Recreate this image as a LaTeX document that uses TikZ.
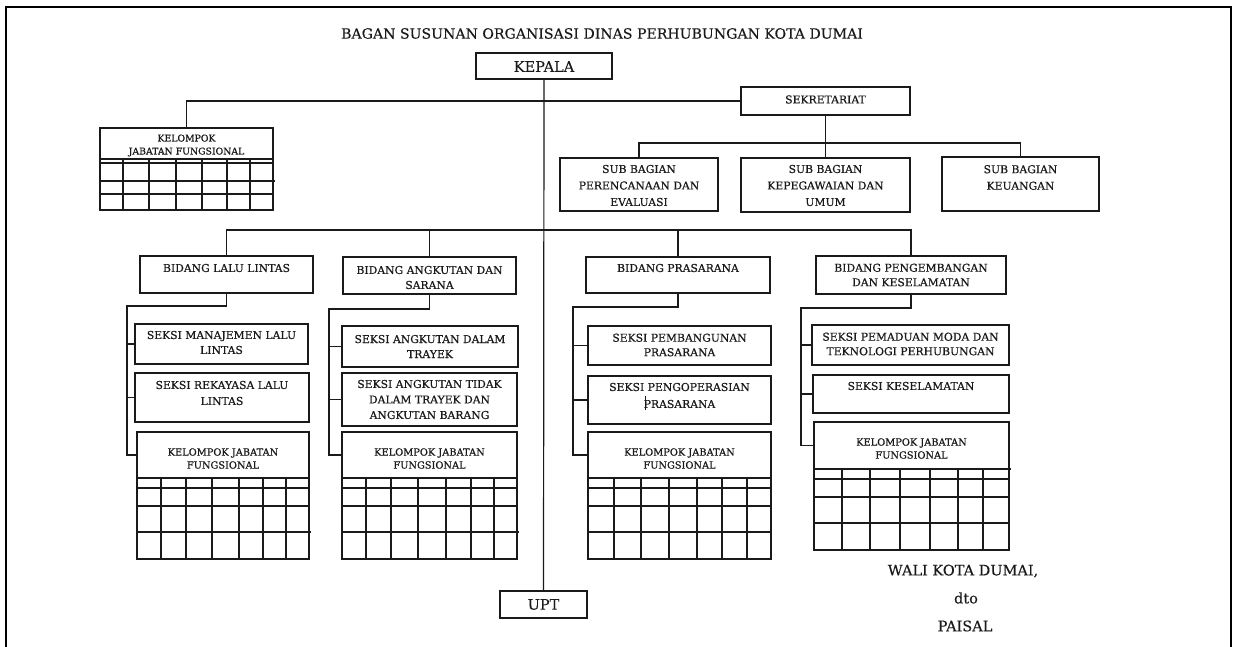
\documentclass[tikz,border=0pt]{standalone}
\usepackage{fontspec}
\setmainfont{DejaVu Serif}
\newfontfamily\dvbig[FakeBold=0.3]{DejaVu Serif}
\newfontfamily\dvsm[FakeBold=0.7]{DejaVu Serif}
\definecolor{ink}{HTML}{1A1A1A}
\tikzset{
  box/.style={draw=ink, line width=1.3pt, inner sep=0pt, outer sep=0pt, anchor=north west},
  conn/.style={draw=ink, line width=1.2pt},
  gridl/.style={draw=ink, line width=1.1pt},
  frame/.style={draw=black, line width=2pt},
  big/.style={font=\dvbig\fontsize{14.5}{17}\selectfont, inner sep=0pt, text=ink},
  sm/.style={font=\dvsm\fontsize{10.8}{15.5}\selectfont, inner sep=0pt, align=center, text=ink},
  kj/.style={font=\dvsm\fontsize{9.8}{13}\selectfont, inner sep=0pt, align=center, text=ink},
}
\newcommand\bx[5]{\node[box, minimum width={(#4-#2)*1pt}, minimum height={(#5-#3)*1pt}] (#1) at (#2,#3) {};}
\begin{document}
\begin{tikzpicture}[x=1pt,y=-1pt]
\useasboundingbox (0,0) rectangle (1233,647);
\draw[frame] (6,647) -- (6,7.5) -- (1231,7.5) -- (1231,647);

% title
\node[big, font=\dvbig\fontsize{14.1}{17}\selectfont] (title) at (602,33.5) {BAGAN SUSUNAN ORGANISASI DINAS PERHUBUNGAN KOTA DUMAI};

% boxes
\bx{kepala}{476}{53}{612}{79}
\node[big] (kepala-t) at (544,66.5) {KEPALA};
\bx{sekr}{741}{87}{910}{115}
\node[sm] (sekr-t) at (825.5,99.5) {SEKRETARIAT};
\bx{sb1}{560}{158}{718}{211}
\node[sm, font=\dvsm\fontsize{10.8}{16.5}\selectfont] (sb1-t) at (639,185.5) {SUB BAGIAN\\PERENCANAAN DAN\\EVALUASI};
\bx{sb2}{741}{158}{910}{212}
\node[sm, font=\dvsm\fontsize{10.8}{16.5}\selectfont] (sb2-t) at (825.5,185.5) {SUB BAGIAN\\KEPEGAWAIAN DAN\\UMUM};
\bx{sb3}{942}{157}{1099}{211}
\node[sm, font=\dvsm\fontsize{10.8}{16.5}\selectfont] (sb3-t) at (1020.5,177.5) {SUB BAGIAN\\KEUANGAN};

% top-left kelompok
\bx{kjf0}{100}{128}{273}{159}
\node[kj, font=\dvsm\fontsize{9.3}{13}\selectfont] (kjf0-t) at (186.5,145.5) {KELOMPOK\\JABATAN FUNGSIONAL};
\draw[gridl] (100,159) -- (100,210) -- (273,210) -- (273,159);
\foreach \y in {163,194} \draw[gridl] (100,\y) -- (273,\y);
\draw[gridl] (100,181) -- (275,181);
\foreach \x in {123,149,176,202,227,250} \draw[gridl] (\x,159) -- (\x,210);

% bidang
\bx{bll}{140}{256}{313}{293}
\node[sm] (bll-t) at (226.5,268) {BIDANG LALU LINTAS};
\bx{bas}{343}{257}{516}{294}
\node[sm, font=\dvsm\fontsize{10.8}{15}\selectfont] (bas-t) at (429.5,277.5) {BIDANG ANGKUTAN DAN\\SARANA};
\bx{bp}{586}{257}{770}{293}
\node[sm] (bp-t) at (678,268) {BIDANG PRASARANA};
\bx{bpk}{816}{256}{1006}{294}
\node[sm, font=\dvsm\fontsize{10.8}{14.5}\selectfont] (bpk-t) at (911,275) {BIDANG PENGEMBANGAN\\DAN KESELAMATAN};

% column 1
\bx{smll}{135}{324}{308}{364}
\node[sm, font=\dvsm\fontsize{10.8}{15}\selectfont] (smll-t) at (221.5,342.5) {SEKSI MANAJEMEN LALU\\LINTAS};
\bx{srll}{135}{373}{309}{422}
\node[sm, font=\dvsm\fontsize{10.8}{16}\selectfont] (srll-t) at (222,393) {SEKSI REKAYASA LALU\\LINTAS};
\bx{kjf1}{137}{432}{309}{478}
\node[kj] (kjf1-t) at (223,458.5) {KELOMPOK JABATAN\\FUNGSIONAL};
\draw[gridl] (137,478) -- (137,559) -- (309,559) -- (309,478);
\foreach \y in {488,506} \draw[gridl] (137,\y) -- (309,\y);
\draw[gridl] (137,532) -- (311,532);
\foreach \x in {161,186,212,239,263,286} \draw[gridl] (\x,478) -- (\x,559);

% column 2
\bx{sadt}{342}{326}{518}{367}
\node[sm, font=\dvsm\fontsize{10.8}{15}\selectfont] (sadt-t) at (430,346.5) {SEKSI ANGKUTAN DALAM\\TRAYEK};
\bx{satdt}{342}{373}{517}{426}
\node[sm] (satdt-t) at (429.5,399.5) {SEKSI ANGKUTAN TIDAK\\DALAM TRAYEK DAN\\ANGKUTAN BARANG};
\bx{kjf2}{342}{432}{517}{478}
\node[kj] (kjf2-t) at (429.5,458.5) {KELOMPOK JABATAN\\FUNGSIONAL};
\draw[gridl] (342,478) -- (342,559) -- (517,559) -- (517,478);
\foreach \y in {488,506} \draw[gridl] (342,\y) -- (517,\y);
\draw[gridl] (342,532) -- (519,532);
\foreach \x in {366,391,418,446,471,494} \draw[gridl] (\x,478) -- (\x,559);

% column 3
\bx{spb}{588}{326}{771}{365}
\node[sm, font=\dvsm\fontsize{10.8}{14.5}\selectfont] (spb-t) at (679.5,345) {SEKSI PEMBANGUNAN\\PRASARANA};
\bx{spp}{588}{376}{771}{424}
\node[sm, font=\dvsm\fontsize{10.8}{17}\selectfont] (spp-t) at (679.5,395.5) {SEKSI PENGOPERASIAN\\PRASARANA};
\draw[line width=0.9pt, ink] (645,396) -- (645,410);
\bx{kjf3}{588}{432}{771}{478}
\node[kj] (kjf3-t) at (679.5,458.5) {KELOMPOK JABATAN\\FUNGSIONAL};
\draw[gridl] (588,478) -- (588,559) -- (771,559) -- (771,478);
\foreach \y in {488,506,532} \draw[gridl] (588,\y) -- (771,\y);
\foreach \x in {614,641,669,697,722,747} \draw[gridl] (\x,478) -- (\x,559);

% column 4
\bx{spmd}{812}{325}{1009}{365}
\node[sm, font=\dvsm\fontsize{10.8}{14.5}\selectfont] (spmd-t) at (910.5,344) {SEKSI PEMADUAN MODA DAN\\TEKNOLOGI PERHUBUNGAN};
\bx{sk}{813}{375}{1009}{413}
\node[sm] (sk-t) at (911,386) {SEKSI KESELAMATAN};
\bx{kjf4}{814}{422}{1009}{469}
\node[kj] (kjf4-t) at (911.5,448.5) {KELOMPOK JABATAN\\FUNGSIONAL};
\draw[gridl] (814,469) -- (814,550) -- (1009,550) -- (1009,469);
\draw[gridl] (1009,469) -- (1011,469);
\foreach \y in {479,497,523} \draw[gridl] (814,\y) -- (1009,\y);
\foreach \x in {842,870,900,930,958,983} \draw[gridl] (\x,469) -- (\x,550);

% UPT
\bx{upt}{500}{591}{587}{618}
\node[big] (upt-t) at (543.5,604.5) {UPT};

% signature
\node[big] (wali) at (963,571) {WALI KOTA DUMAI,};
\node[big] (dto) at (966,598) {dto};
\node[big] (paisal) at (965,626) {PAISAL};

% connectors
\draw[conn] (kepala.south) -- (upt.north);
\draw[conn] (sekr.west) -| (kjf0.north);
\coordinate (busS) at (825.5,143);
\draw[conn] (sekr.south) -- (sb2.north);
\draw[conn] (sb1.north) |- (busS) -| (sb3.north);
\coordinate (busB) at (544,230);
\draw[conn] (bll.north) |- (busB) -| (bpk.north);
\draw[conn] (bas.north) |- (busB);
\draw[conn] (bp.north) |- (busB);

\coordinate (s1) at (127,306);
\draw[conn] (bll.south) |- (s1) |- (kjf1.west);
\draw[conn] (s1 |- smll.west) -- (smll.west);
\draw[conn] (s1 |- srll.west) -- (srll.west);

\coordinate (s2) at (329,309);
\draw[conn] (bas.south) |- (s2) |- (kjf2.west);
\draw[conn] (s2 |- sadt.west) -- (sadt.west);
\draw[conn] (s2 |- satdt.west) -- (satdt.west);

\coordinate (s3) at (573,307);
\draw[conn] (bp.south) |- (s3) |- (kjf3.west);
\draw[conn] (s3 |- spb.west) -- (spb.west);
\draw[conn] (s3 |- spp.west) -- (spp.west);

\coordinate (s4) at (801,308);
\draw[conn] (bpk.south) |- (s4) |- (kjf4.west);
\draw[conn] (s4 |- spmd.west) -- (spmd.west);
\draw[conn] (s4 |- sk.west) -- (sk.west);
\end{tikzpicture}
\end{document}
